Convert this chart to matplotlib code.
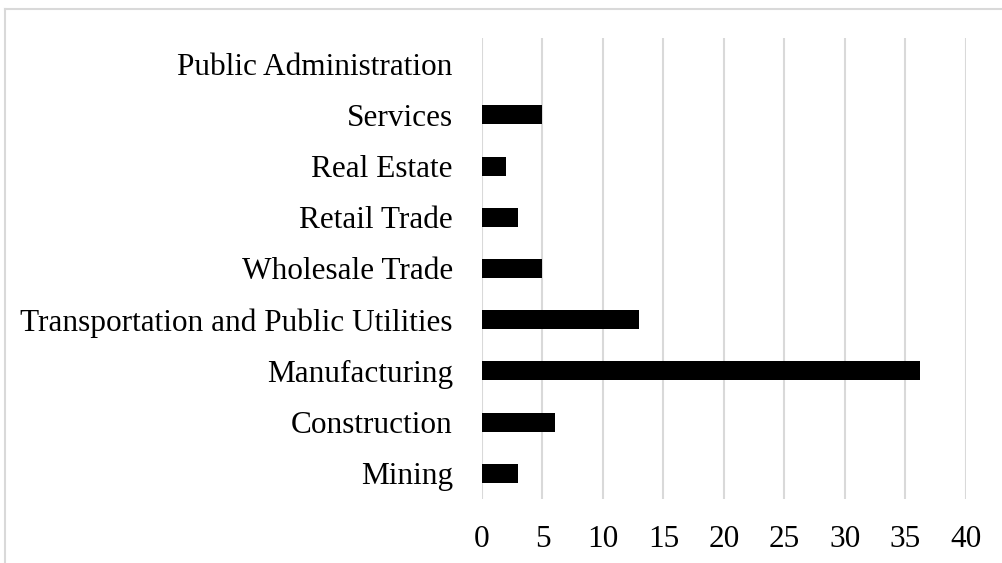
import matplotlib
matplotlib.use('Agg')
from matplotlib import pyplot as plt
from matplotlib.lines import Line2D

# industry counts
industries = ['Mining', 'Construction', 'Manufacturing',
              'Transportation and Public Utilities', 'Wholesale Trade',
              'Retail Trade', 'Real Estate', 'Services', 'Public Administration']
counts = [3, 6, 36.2, 13, 5, 3, 2, 5, 0]
x_ticks = [0, 5, 10, 15, 20, 25, 30, 35, 40]

plt.rcParams['font.family'] = ['Liberation Serif', 'DejaVu Serif']

fig = plt.figure(figsize=(10.02, 5.63), dpi=100)
ax = fig.add_axes([0.481, 0.1137, 0.483, 0.8188])

ax.barh(range(len(industries)), counts, height=0.37, color='black', zorder=3)
ax.set_yticks(range(len(industries)))
ax.set_yticklabels(industries)
ax.set_xticks(x_ticks)
ax.set_xlim(0, 40)
ax.set_ylim(-0.5, len(industries) - 0.5)

ax.grid(axis='x', color='#d9d9d9', linewidth=1.5, zorder=0)
ax.set_axisbelow(True)
for s in ax.spines.values():
    s.set_visible(False)
ax.tick_params(axis='y', length=0, pad=21, labelsize=22.5)
ax.tick_params(axis='x', length=0, pad=19, labelsize=22.5)

# outer frame (only top and left visible in the crop)
fig.add_artist(Line2D([5 / 1002, 1.0], [1 - 9 / 563, 1 - 9 / 563],
                      transform=fig.transFigure, color='#d9d9d9', linewidth=1.5))
fig.add_artist(Line2D([5 / 1002, 5 / 1002], [0, 1 - 9 / 563],
                      transform=fig.transFigure, color='#d9d9d9', linewidth=1.5))

fig.savefig('out.png', dpi=100)
